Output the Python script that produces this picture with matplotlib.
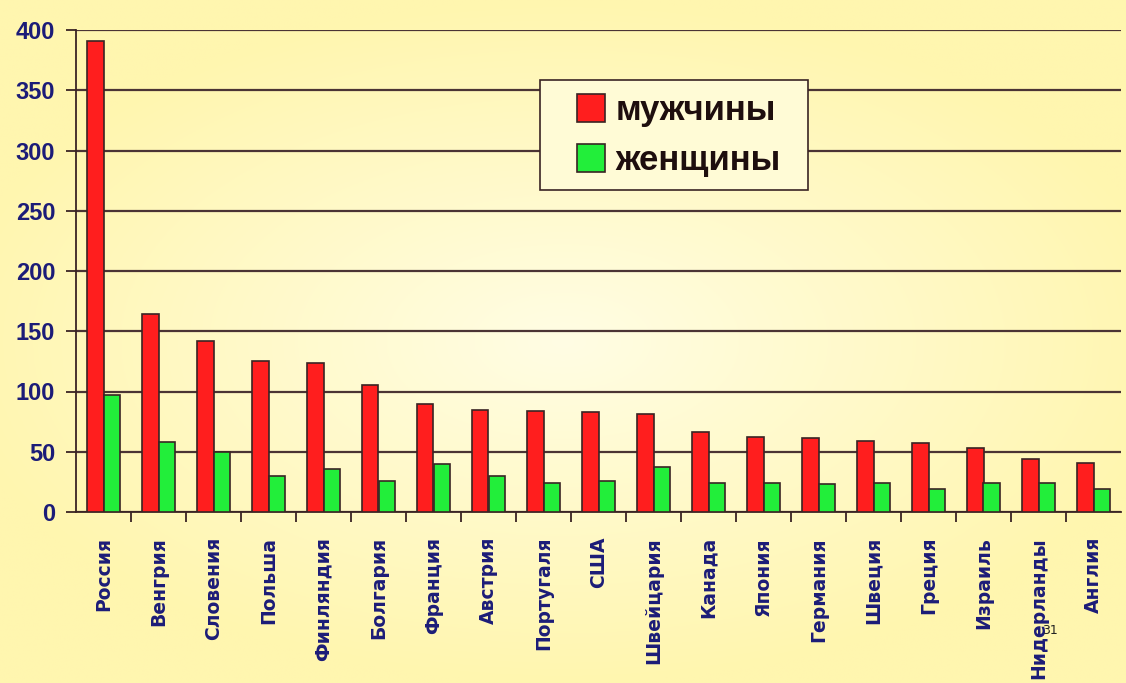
import matplotlib
matplotlib.use('Agg')
import matplotlib.pyplot as plt
from matplotlib.patches import Rectangle
import numpy as np

countries = ['Россия', 'Венгрия', 'Словения', 'Польша', 'Финляндия', 'Болгария',
             'Франция', 'Австрия', 'Португаля', 'США', 'Швейцария', 'Канада',
             'Япония', 'Германия', 'Швеция', 'Греция', 'Израиль', 'Нидерланды', 'Англия']
men = [391, 164, 142, 125, 124, 105, 90, 85, 84, 83, 81, 66, 62, 61, 59, 57, 53, 44, 41]
women = [97, 58, 50, 30, 36, 26, 40, 30, 24, 26, 37, 24, 24, 23, 24, 19, 24, 24, 19]

navy = '#1c1c78'
edge = '#3a2424'

fig = plt.figure(figsize=(11.26, 6.83), dpi=100)

# pale yellow radial background
bg = fig.add_axes([0, 0, 1, 1], zorder=-5)
yy, xx = np.mgrid[-1:1:300j, -1:1:500j]
r = np.clip(np.sqrt((xx / 1.1) ** 2 + (yy / 1.0) ** 2), 0, 1)
c_in = np.array([255, 253, 228]) / 255
c_out = np.array([255, 246, 175]) / 255
img = c_in[None, None, :] * (1 - r[..., None]) + c_out[None, None, :] * r[..., None]
bg.imshow(img, aspect='auto', extent=[0, 1, 0, 1])
bg.axis('off')

ax = fig.add_axes([76 / 1126, 1 - 512 / 683, 1045 / 1126, 482 / 683])
ax.set_facecolor('none')

ind = np.arange(len(countries))
w = 0.3
b1 = ax.bar(ind - w / 2, men, w, color='#ff1e1e', edgecolor=edge, linewidth=1.2, zorder=3)
b2 = ax.bar(ind + w / 2, women, w, color='#22ee3a', edgecolor=edge, linewidth=1.2, zorder=3)

ax.set_xlim(-0.5, len(countries) - 0.5)
ax.set_ylim(0, 400)
ax.set_yticks(range(0, 401, 50))
ax.yaxis.grid(True, color='#4b3434', linewidth=1.6, zorder=1)
ax.set_axisbelow(True)

for s in ['top', 'right']:
    ax.spines[s].set_visible(False)
ax.spines['left'].set_color(edge)
ax.spines['bottom'].set_color(edge)
ax.spines['left'].set_linewidth(1.3)
ax.spines['bottom'].set_linewidth(1.3)

ax.tick_params(axis='y', length=7, width=1.3, color=edge, pad=8)
for t in ax.get_yticklabels():
    t.set_fontfamily('Liberation Sans')
    t.set_fontweight('bold')
    t.set_fontsize(17)
    t.set_color(navy)

ax.set_xticks(ind)
ax.set_xticklabels(countries, rotation=90, fontsize=13.5, fontweight='bold',
                   color=navy, va='top', ha='center')
ax.set_xticks(ind[:-1] + 0.5, minor=True)
ax.tick_params(axis='x', which='major', length=0, pad=18)
ax.tick_params(axis='x', which='minor', length=7, width=1.3, color=edge)

# legend box drawn by hand (wider side padding than top/bottom)
box = Rectangle((540 / 1126, 1 - 190 / 683), 268 / 1126, 110 / 683,
                transform=fig.transFigure, facecolor='#fffbd6', edgecolor=edge,
                linewidth=1.2, zorder=4)
ax.add_patch(box)
box.set_clip_on(False)

leg = ax.legend([b1[0], b2[0]], ['мужчины', 'женщины'],
                loc='upper left', bbox_to_anchor=(577 / 1126, 1 - 94 / 683),
                bbox_transform=fig.transFigure, frameon=False,
                prop={'family': 'Liberation Sans', 'weight': 'bold', 'size': 25},
                handlelength=0.8, handleheight=0.85, handletextpad=0.3,
                borderpad=0, labelspacing=0.5, borderaxespad=0)
leg.set_zorder(5)
for t in leg.get_texts():
    t.set_color('#1e0e0e')

fig.text(1050 / 1126, 1 - 630 / 683, '31', fontsize=9, color='#222222',
         ha='center', va='center')

fig.savefig('out.png', dpi=100)
